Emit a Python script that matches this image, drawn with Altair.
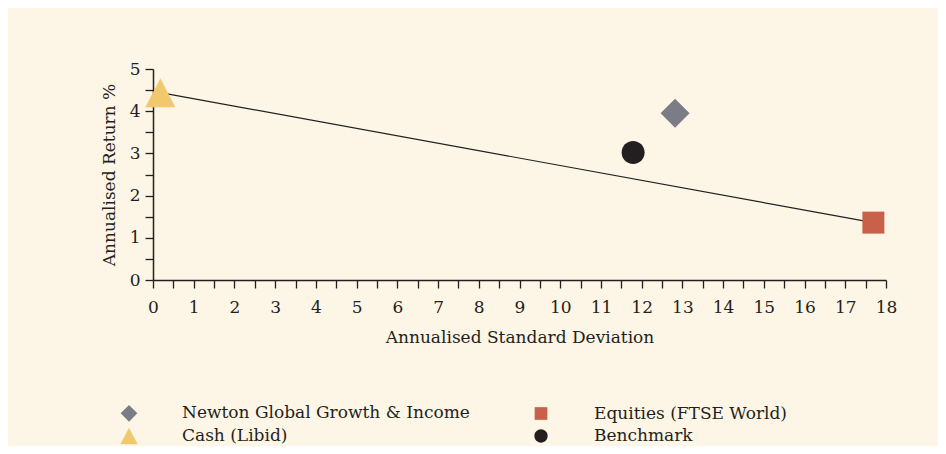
import altair as alt
import pandas as pd

# ---- data ----
series = ["Newton Global Growth & Income", "Cash (Libid)", "Equities (FTSE World)", "Benchmark"]
std_dev = [12.82, 0.18, 17.69, 11.79]
annual_return = [3.95, 4.44, 1.36, 3.02]
colors = ["#7b7c86", "#f2c86c", "#c9604a", "#231f20"]

# marker outlines in Vega's unit symbol space ([-1, 1]); relative sizes of the markers
shapes = [
    "M0,-0.967L0.967,0L0,0.967L-0.967,0Z",                                   # diamond
    "M0,-0.967L1,0.967L-1,0.967Z",                                           # triangle
    "M-0.733,-0.733L0.733,-0.733L0.733,0.733L-0.733,0.733Z",                 # square
    "M0.767,0A0.767,0.767,0,1,1,-0.767,0A0.767,0.767,0,1,1,0.767,0Z",        # circle
]

line_x = [0.18, 17.69]
line_y = [4.44, 1.36]

x_ticks = [i / 2 for i in range(0, 37)]
y_ticks = [i / 2 for i in range(0, 11)]

FONT = "DejaVu Serif"
INK = "#231f20"
BG = "#fdf6e6"

pts = pd.DataFrame({"series": series, "sd": std_dev, "ret": annual_return})
ln = pd.DataFrame({"sd": line_x, "ret": line_y})

xscale = alt.Scale(domain=[0, 18], nice=False, zero=False)
yscale = alt.Scale(domain=[0, 5], nice=False, zero=False)

LABEL_EXPR = "datum.value % 1 === 0 ? format(datum.value, 'd') : ''"

xaxis = alt.Axis(values=x_ticks, labelExpr=LABEL_EXPR,
                 labelOverlap=False, labelFlush=False, title="Annualised Standard Deviation",
                 titlePadding=14, labelPadding=11)
yaxis = alt.Axis(values=y_ticks, labelExpr=LABEL_EXPR,
                 labelOverlap=False, labelFlush=False, title="Annualised Return %",
                 titlePadding=11, labelPadding=5)

line = alt.Chart(ln).mark_line(color=INK, strokeWidth=1.2).encode(
    x=alt.X("sd:Q", scale=xscale, axis=xaxis),
    y=alt.Y("ret:Q", scale=yscale, axis=yaxis),
)

legend = alt.Legend(
    orient="none", legendX=-33, legendY=335, columns=2, title=None,
    symbolSize=300, labelFontSize=17, labelFont=FONT, labelColor=INK,
    labelOffset=44, columnPadding=62, rowPadding=5, gridAlign="all",
    symbolStrokeWidth=0, padding=0, labelLimit=400,
)

points = alt.Chart(pts).mark_point(filled=True, opacity=1, strokeWidth=0, size=900).encode(
    x=alt.X("sd:Q", scale=xscale, axis=xaxis),
    y=alt.Y("ret:Q", scale=yscale, axis=yaxis),
    color=alt.Color("series:N", scale=alt.Scale(domain=series, range=colors),
                    sort=series, legend=legend),
    shape=alt.Shape("series:N", scale=alt.Scale(domain=series, range=shapes),
                    sort=series, legend=legend),
)

chart = alt.layer(line, points).properties(
    width=733, height=211,
    autosize=alt.AutoSizeParams(type="none"),
    padding={"left": 145, "top": 61, "right": 52, "bottom": 166},
    background=BG,
).configure_view(stroke=None, fill=BG).configure_axis(
    grid=False, domainColor=INK, domainWidth=1.5, tickColor=INK, tickWidth=1.3,
    tickSize=8, labelFont=FONT, labelFontSize=17, labelColor=INK,
    titleFont=FONT, titleFontSize=17, titleFontWeight="normal", titleColor=INK,
)

chart.save("out.html", embed_options={"renderer": "svg", "actions": False})
